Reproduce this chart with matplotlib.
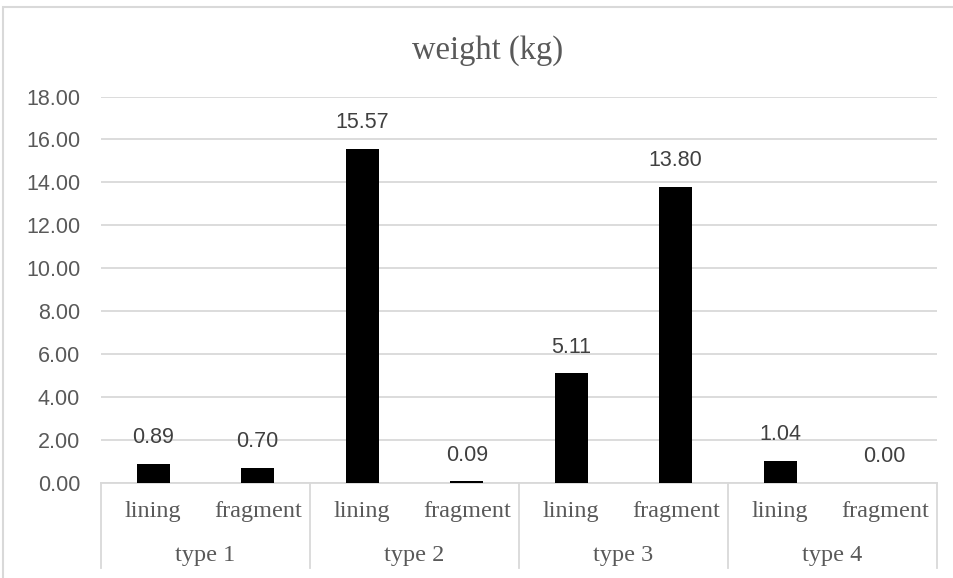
import matplotlib.pyplot as plt
from matplotlib.patches import Rectangle
from matplotlib.transforms import blended_transform_factory
import numpy as np

# data
groups = ["type 1", "type 2", "type 3", "type 4"]
parts = ["lining", "fragment"]
weights = [0.89, 0.70, 15.57, 0.09, 5.11, 13.80, 1.04, 0.00]
y_ticks = [0, 2, 4, 6, 8, 10, 12, 14, 16, 18]

W, H = 954, 578
fig = plt.figure(figsize=(W / 100, H / 100), dpi=100)
grid_col = "#d9d9d9"
text_col = "#595959"

# plot area in pixels: x 101..937, y 96.5..483
ax = fig.add_axes([101 / W, (H - 483) / H, (937 - 101) / W, (483 - 96.5) / H])

x = np.arange(len(weights))
ax.bar(x, weights, width=0.315, color="black", zorder=3)
ax.set_xlim(-0.5, len(weights) - 0.5)
ax.set_ylim(0, 18)

ax.set_yticks(y_ticks)
ax.set_yticklabels([f"{v:.2f}" for v in y_ticks], fontfamily="Liberation Sans",
                   fontsize=15.5, color=text_col)
ax.tick_params(axis="y", length=0, pad=15)
ax.set_xticks([])
ax.grid(axis="y", color=grid_col, linewidth=1.3, zorder=0)
for s in ["left", "right", "top"]:
    ax.spines[s].set_visible(False)
ax.spines["bottom"].set_color(grid_col)
ax.spines["bottom"].set_linewidth(1.3)

# value labels above the bars
for xi, v in zip(x, weights):
    ax.annotate(f"{v:.2f}", (xi, v), xytext=(0, 26), textcoords="offset pixels",
                ha="center", va="center", fontfamily="Liberation Sans",
                fontsize=15.5, color="#404040")

# two-level category axis
tr = blended_transform_factory(ax.transData, fig.transFigure)
for b in [-0.5, 1.5, 3.5, 5.5, 7.5]:
    ax.plot([b, b], [(H - 483) / H, (H - 568) / H], transform=tr, color=grid_col,
            linewidth=1.3, clip_on=False)
for xi in x:
    ax.text(xi, (H - 512) / H, parts[xi % 2], transform=tr, ha="center", va="center",
            fontfamily="Liberation Serif", fontsize=17.5, color=text_col)
for gi, g in enumerate(groups):
    ax.text(gi * 2 + 0.5, (H - 555) / H, g, transform=tr, ha="center", va="center",
            fontfamily="Liberation Serif", fontsize=17.5, color=text_col)

fig.text(487.5 / W, (H - 51) / H, "weight (kg)", ha="center", va="center",
         fontfamily="Liberation Serif", fontsize=23.5, color=text_col)

# chart border
fig.patches.append(Rectangle((3 / W, -0.1), 2, (H - 7) / H + 0.1, transform=fig.transFigure,
                             fill=False, edgecolor=grid_col, linewidth=1.5))

fig.savefig("out.png", dpi=100)
